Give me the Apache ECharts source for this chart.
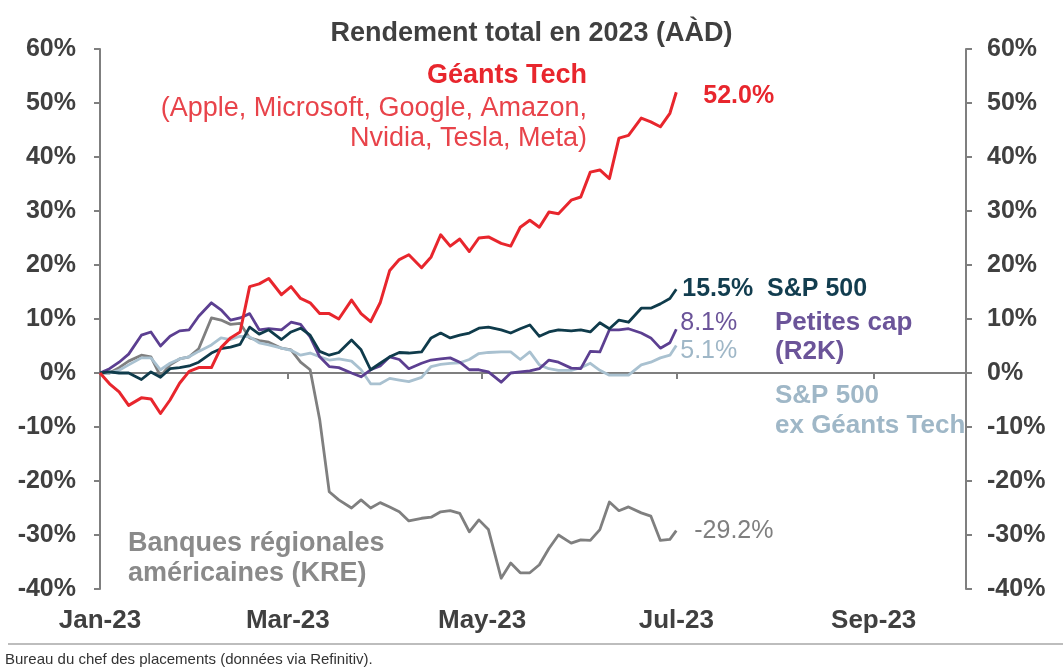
<!DOCTYPE html>
<html>
<head>
<meta charset="utf-8">
<script src="https://cdn.jsdelivr.net/npm/echarts@6/dist/echarts.min.js"></script>
<style>
  html, body { margin: 0; padding: 0; background: #fff; }
  #chart { width: 1063px; height: 670px; }
</style>
</head>
<body>
<div id="chart"></div>
<script>
// dates of the sampled points (roughly every 3 days)
const dates = [
  '2023-01-01','2023-01-04','2023-01-07','2023-01-10','2023-01-14','2023-01-17','2023-01-20','2023-01-23','2023-01-26','2023-01-29',
  '2023-02-01','2023-02-05','2023-02-08','2023-02-11','2023-02-14','2023-02-17','2023-02-20','2023-02-23','2023-02-27','2023-03-02',
  '2023-03-05','2023-03-08','2023-03-11','2023-03-14','2023-03-17','2023-03-21','2023-03-24','2023-03-27','2023-03-30','2023-04-02',
  '2023-04-05','2023-04-08','2023-04-12','2023-04-15','2023-04-18','2023-04-21','2023-04-24','2023-04-27','2023-04-30','2023-05-03',
  '2023-05-07','2023-05-10','2023-05-13','2023-05-16','2023-05-19','2023-05-22','2023-05-25','2023-05-29','2023-06-01','2023-06-04',
  '2023-06-07','2023-06-10','2023-06-13','2023-06-16','2023-06-20','2023-06-23','2023-06-26','2023-06-29','2023-07-01'
]

// rendement total cumulé (%)
const geantsTech = [
  0, -2.0, -3.5, -6.0, -4.6, -4.8, -7.5, -5.0, -1.9, 0.3,
  1.0, 1.0, 4.7, 6.5, 7.6, 16.0, 16.5, 17.5, 14.5, 16.0,
  13.8, 13.0, 11.0, 11.0, 10.0, 13.5, 11.0, 9.5, 13.0, 19.0,
  21.0, 21.9, 19.5, 21.5, 25.6, 23.5, 24.8, 22.5, 25.0, 25.2,
  24.0, 23.5, 27.0, 28.3, 27.0, 29.8, 29.5, 32.0, 32.6, 37.2,
  37.6, 36.0, 43.5, 44.0, 47.2, 46.5, 45.6, 48.1, 52.0
]
const sp500 = [
  0, 0.2, 0, 0, -1.2, 0.2, -0.8, 0.8, 1.0, 1.3,
  2.0, 3.7, 4.5, 4.8, 5.3, 8.5, 7.2, 8.0, 6.2, 7.6,
  8.3, 7.0, 4.0, 3.3, 3.8, 6.1, 4.3, 0.6, 1.8, 3.0,
  3.8, 3.7, 3.9, 6.5, 7.4, 6.5, 7.0, 7.4, 8.3, 8.5,
  8.0, 7.4, 8.2, 8.9, 6.8, 7.6, 8.0, 7.8, 8.0, 7.6,
  9.3, 8.2, 9.8, 9.4, 12.0, 12.0, 12.8, 13.8, 15.5
]
const petitesCap = [
  0, 0.8, 2.0, 3.5, 7.0, 7.6, 5.0, 6.8, 7.8, 8.0,
  10.5, 13.0, 11.7, 9.8, 10.2, 11.0, 8.0, 8.2, 8.0, 9.4,
  9.0, 6.7, 3.0, 1.2, 1.0, 0, -0.7, 0.6, 1.3, 3.0,
  2.5, 0.8, 1.8, 2.4, 2.6, 2.8, 2.0, 0.6, 0.6, 0.2,
  -1.7, 0, 0.2, 0.4, 0.8, 2.4, 2.0, 0.9, 0.8, 4.0,
  3.9, 8.0, 8.0, 8.2, 7.4, 6.5, 4.6, 5.6, 8.1
]
const sp500ExTech = [
  0, 0, 0.5, 1.5, 2.8, 2.8, 0.6, 1.8, 2.6, 3.0,
  4.0, 5.2, 6.5, 6.2, 6.8, 6.7, 5.6, 5.2, 4.6, 4.2,
  3.3, 3.7, 3.0, 2.4, 2.6, 2.2, 0.6, -2.0, -2.0, -1.0,
  -1.3, -1.6, -0.8, 1.2, 1.6, 1.8, 1.9, 2.5, 3.6, 3.8,
  3.9, 3.9, 2.5, 3.9, 1.5, 0.8, 0.5, 0.5, 1.0, 1.8,
  0.5, -0.4, -0.4, -0.4, 1.5, 2.0, 2.8, 3.3, 5.1
]
const kre = [
  0, 0, 1.0, 2.2, 3.3, 3.0, -0.6, 1.5, 2.6, 3.0,
  4.5, 10.2, 9.8, 9.0, 9.2, 6.5, 6.0, 5.7, 4.6, 4.3,
  2.0, 0.6, -8.6, -22.0, -23.5, -25.0, -23.5, -25.0, -24.0, -24.8,
  -25.7, -27.4, -26.9, -26.7, -25.7, -25.5, -26.0, -29.4, -27.2, -29.0,
  -38.0, -35.2, -37.0, -37.0, -35.5, -32.5, -30.0, -31.5, -30.9, -31.0,
  -29.0, -23.9, -25.5, -24.8, -25.9, -26.5, -31.0, -30.8, -29.2
]

const tickDates = ['2023-01-01', '2023-03-01', '2023-05-01', '2023-07-01', '2023-09-01']
const tickLabels = ['Jan-23', 'Mar-23', 'May-23', 'Jul-23', 'Sep-23']
const startDate = '2023-01-01'
const endDate = '2023-09-30'

const FONT = '"Liberation Sans", Arial, sans-serif'
const AXIS_GRAY = '#7f7f7f'
const TEXT_GRAY = '#404040'

// day number since Jan 1st (UTC, so no DST drift)
const toDay = d => Math.round((Date.parse(d + 'T00:00:00Z') - Date.parse(startDate + 'T00:00:00Z')) / 86400000)
const tickDays = tickDates.map(toDay)

const tickLabel = (value) => {
  let best = 0
  tickDays.forEach((t, i) => {
    if (Math.abs(t - value) < Math.abs(tickDays[best] - value)) best = i
  })
  return tickLabels[best]
}

const pct = p => p.value[1].toFixed(1) + '%'

const makeLine = (name, values, color, width, z, endLabel) => ({
  name,
  type: 'line',
  data: dates.map((d, i) => [toDay(d), values[i]]),
  showSymbol: false,
  symbol: 'none',
  z,
  lineStyle: { color, width, join: 'round' },
  itemStyle: { color },
  endLabel: Object.assign({ show: true, fontFamily: FONT, fontSize: 25 }, endLabel)
})

const yAxisBase = (position, margin) => ({
  type: 'value',
  position,
  min: -40,
  max: 60,
  interval: 10,
  axisLine: { show: true, onZero: false, lineStyle: { color: AXIS_GRAY, width: 2 } },
  axisTick: { show: true, length: 6, lineStyle: { color: AXIS_GRAY, width: 2 } },
  splitLine: { show: false },
  axisLabel: {
    formatter: '{value}%',
    color: TEXT_GRAY,
    fontFamily: FONT,
    fontSize: 25,
    fontWeight: 'bold',
    margin
  }
})

const chart = echarts.init(document.getElementById('chart'), null, { renderer: 'canvas' })

const option = {
  animation: false,
  backgroundColor: '#ffffff',
  title: {
    text: 'Rendement total en 2023 (AÀD)',
    left: 'center',
    top: 15,
    textStyle: { color: TEXT_GRAY, fontFamily: FONT, fontSize: 27, fontWeight: 'bold' }
  },
  grid: { left: 100, right: 97, top: 49, bottom: 81, containLabel: false },
  xAxis: [
    {
      type: 'value',
      min: 0,
      max: toDay(endDate),
      position: 'bottom',
      axisLine: { show: false, onZero: false },
      axisTick: { show: false },
      splitLine: { show: false },
      axisLabel: {
        customValues: tickDays,
        formatter: tickLabel,
        color: TEXT_GRAY,
        fontFamily: FONT,
        fontSize: 26,
        fontWeight: 'bold',
        margin: 19,
        hideOverlap: false
      }
    },
    {
      type: 'value',
      min: 0,
      max: toDay(endDate),
      position: 'bottom',
      axisLine: { show: true, onZero: true, lineStyle: { color: AXIS_GRAY, width: 2 } },
      axisTick: { show: true, customValues: tickDays, length: 6, lineStyle: { color: AXIS_GRAY, width: 2 } },
      splitLine: { show: false },
      axisLabel: { show: false }
    }
  ],
  yAxis: [yAxisBase('left', 24), yAxisBase('right', 21)],
  series: [
    makeLine('Banques régionales américaines (KRE)', kre, '#7f7f7f', 2.8, 2,
      { formatter: pct, color: '#7f7f7f', distance: 18 }),
    makeLine('S&P 500 ex Géants Tech', sp500ExTech, '#a9c1d0', 2.8, 3,
      { formatter: pct, color: '#9fb7c7', distance: 4, offset: [0, 6] }),
    makeLine('Petites cap (R2K)', petitesCap, '#5c3f91', 2.8, 4,
      { formatter: pct, color: '#6b5499', distance: 4, offset: [0, -6] }),
    makeLine('S&P 500', sp500, '#0f3b4b', 2.8, 5,
      { formatter: p => pct(p) + '  S&P 500', color: '#123d4f', fontWeight: 'bold', distance: 6 }),
    makeLine('Géants Tech', geantsTech, '#e8262d', 3, 6,
      { formatter: pct, color: '#e8262d', fontWeight: 'bold', distance: 27, offset: [0, 4] })
  ],
  graphic: [
    {
      type: 'text', right: 1063 - 587, top: 62,
      style: { text: 'Géants Tech', fill: '#e8262d', font: 'bold 27px ' + FONT, textAlign: 'right' }
    },
    {
      type: 'text', right: 1063 - 587, top: 94,
      style: {
        text: '(Apple, Microsoft, Google, Amazon,\nNvidia, Tesla, Meta)',
        fill: '#e8434a', font: '27px ' + FONT, textAlign: 'right', lineHeight: 30
      }
    },
    {
      type: 'text', left: 775, top: 308,
      style: { text: 'Petites cap\n(R2K)', fill: '#6b5499', font: 'bold 26px ' + FONT, lineHeight: 29 }
    },
    {
      type: 'text', left: 775, top: 381,
      style: { text: 'S&P 500\nex Géants Tech', fill: '#9fb7c7', font: 'bold 26px ' + FONT, lineHeight: 30 }
    },
    {
      type: 'text', left: 128, top: 529,
      style: { text: 'Banques régionales\naméricaines (KRE)', fill: '#8a8a8a', font: 'bold 27px ' + FONT, lineHeight: 30 }
    },
    {
      type: 'line', shape: { x1: 8, y1: 644, x2: 1063, y2: 644 },
      style: { stroke: '#bdbdbd', lineWidth: 2 }
    },
    {
      type: 'text', left: 5, top: 652,
      style: { text: 'Bureau du chef des placements (données via Refinitiv).', fill: '#333333', font: '15px ' + FONT }
    }
  ]
}

chart.setOption(option)
</script>
</body>
</html>
